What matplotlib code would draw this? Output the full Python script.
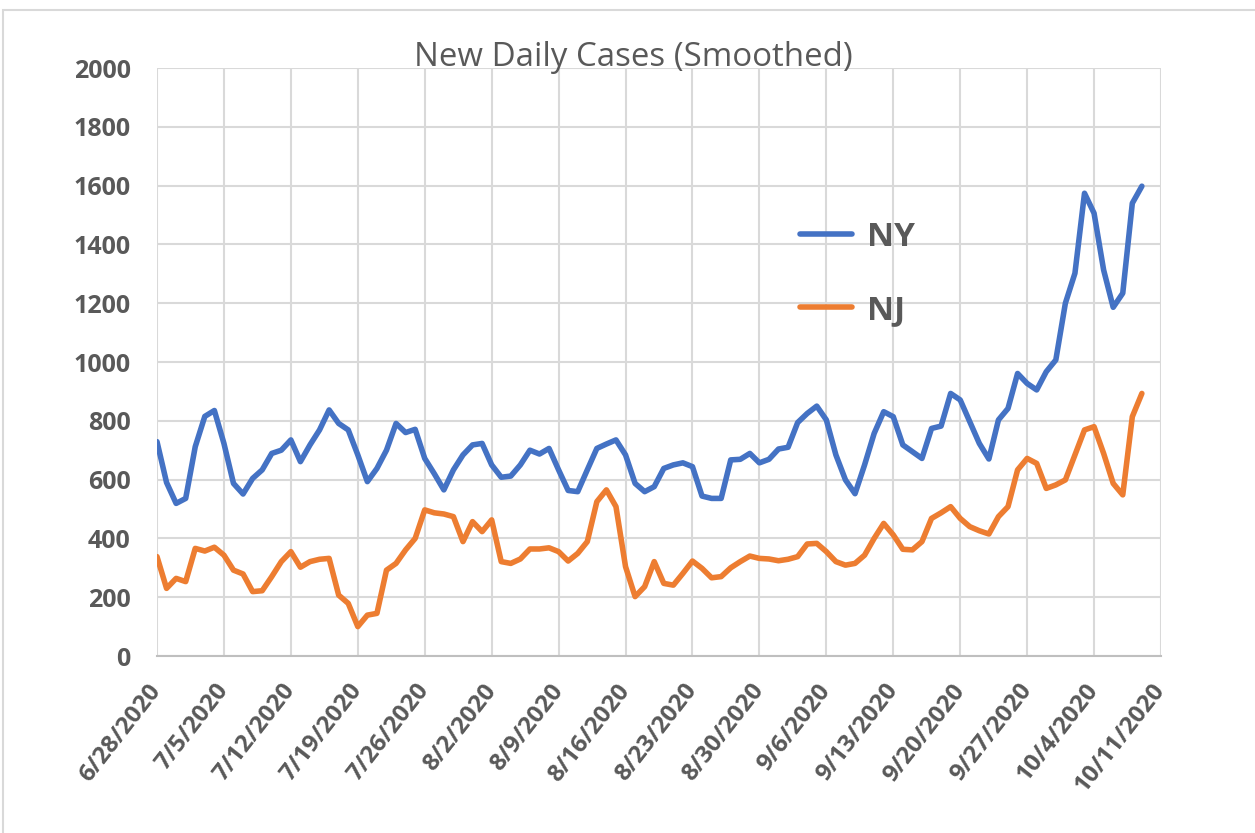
import matplotlib
matplotlib.use("Agg")
import matplotlib.pyplot as plt
from matplotlib.patches import Rectangle
import pandas as pd

# ---- data ----
start_date = "2020-06-28"
ny_cases = [729, 590, 519, 536, 712, 815, 835, 723, 587, 551, 604, 633, 689, 700,
            735, 661, 718, 769, 837, 791, 769, 684, 593, 638, 700, 791, 760, 771,
            672, 620, 565, 633, 684, 718, 723, 650, 608, 612, 650, 700, 687, 706,
            633, 563, 559, 633, 706, 721, 735, 684, 587, 559, 576, 638, 650, 657,
            644, 544, 536, 536, 667, 669, 689, 657, 669, 704, 710, 794, 825, 850,
            803, 684, 599, 552, 650, 757, 831, 814, 718, 695, 672, 774, 782, 893,
            871, 797, 723, 670, 803, 842, 961, 927, 905, 967, 1007, 1200, 1302, 1574,
            1506, 1313, 1186, 1234, 1540, 1598]
nj_cases = [338, 230, 264, 253, 366, 357, 370, 343, 292, 279, 219, 222, 270, 321,
            355, 302, 321, 329, 332, 207, 179, 100, 139, 145, 292, 315, 361, 400,
            497, 487, 483, 474, 389, 457, 423, 463, 321, 315, 330, 364, 364, 368,
            355, 323, 349, 389, 525, 565, 508, 304, 202, 236, 321, 247, 241, 281,
            323, 298, 266, 270, 300, 321, 340, 332, 330, 324, 329, 338, 381, 383,
            355, 321, 309, 315, 343, 400, 451, 412, 363, 361, 389, 468, 487, 508,
            468, 440, 426, 415, 474, 508, 633, 672, 655, 570, 582, 599, 684, 769,
            780, 689, 587, 548, 814, 893]
series_labels = ["NY", "NJ"]
x_tick_labels = ["6/28/2020", "7/5/2020", "7/12/2020", "7/19/2020", "7/26/2020",
                 "8/2/2020", "8/9/2020", "8/16/2020", "8/23/2020", "8/30/2020",
                 "9/6/2020", "9/13/2020", "9/20/2020", "9/27/2020", "10/4/2020",
                 "10/11/2020"]
y_ticks = [0, 200, 400, 600, 800, 1000, 1200, 1400, 1600, 1800, 2000]
title = "New Daily Cases (Smoothed)"

dates = pd.date_range(start_date, periods=len(ny_cases), freq="D")
tick_dates = pd.to_datetime(x_tick_labels, format="%m/%d/%Y")

# ---- style ----
TXT = "#595959"
GRID = "#D9D9D9"
FONT = ["Open Sans", "DejaVu Sans"]
plt.rcParams["font.family"] = FONT

W, H = 1255, 833
fig = plt.figure(figsize=(W / 100, H / 100), dpi=100)
fig.patch.set_facecolor("white")
L, R, T, B = 157, 1161, 68, 656
ax = fig.add_axes([L / W, 1 - B / H, (R - L) / W, (B - T) / H])

ax.plot(dates, ny_cases, color="#4472C4", lw=4.0, label=series_labels[0],
        solid_joinstyle="round", solid_capstyle="round", zorder=3)
ax.plot(dates, nj_cases, color="#ED7D31", lw=4.0, label=series_labels[1],
        solid_joinstyle="round", solid_capstyle="round", zorder=3)

ax.set_xlim(tick_dates[0], tick_dates[-1])
ax.set_ylim(0, 2000)
ax.set_yticks(y_ticks)
ax.set_yticklabels([str(v) for v in y_ticks])
ax.set_xticks(tick_dates)
ax.set_xticklabels(x_tick_labels)

ax.grid(True, color=GRID, lw=1.5, zorder=0)
ax.set_axisbelow(True)
for s in ["top", "right", "left"]:
    ax.spines[s].set_visible(False)
ax.spines["bottom"].set_color("#BFBFBF")
ax.spines["bottom"].set_linewidth(1.5)
ax.tick_params(axis="both", length=0, colors=TXT)
ax.tick_params(axis="y", pad=19)
ax.tick_params(axis="x", pad=22)
for lab in ax.get_yticklabels():
    lab.set_fontsize(18)
    lab.set_fontweight("bold")
    lab.set_color(TXT)
for lab in ax.get_xticklabels():
    lab.set_fontsize(17.5)
    lab.set_fontweight("bold")
    lab.set_color(TXT)
    lab.set_rotation(52)
    lab.set_ha("right")
    lab.set_va("center")
    lab.set_rotation_mode("anchor")

leg = ax.legend(loc="upper left", bbox_to_anchor=((800 - L) / (R - L), 1 - (221 - T) / (B - T)),
                frameon=False, fontsize=24, handlelength=1.55, handletextpad=0.45,
                labelspacing=1.2, borderpad=0, borderaxespad=0)
for t in leg.get_texts():
    t.set_fontweight("bold")
    t.set_color(TXT)

fig.text(633 / W, 1 - 66 / H, title, ha="center", va="baseline",
         fontsize=23.8, color=TXT, fontweight="normal")

fig.patches.append(Rectangle((3 / W, -0.1), 2, 1 - 10 / H + 0.1, transform=fig.transFigure,
                             fill=False, ec=GRID, lw=1.5))

fig.savefig("out.png", dpi=100)
